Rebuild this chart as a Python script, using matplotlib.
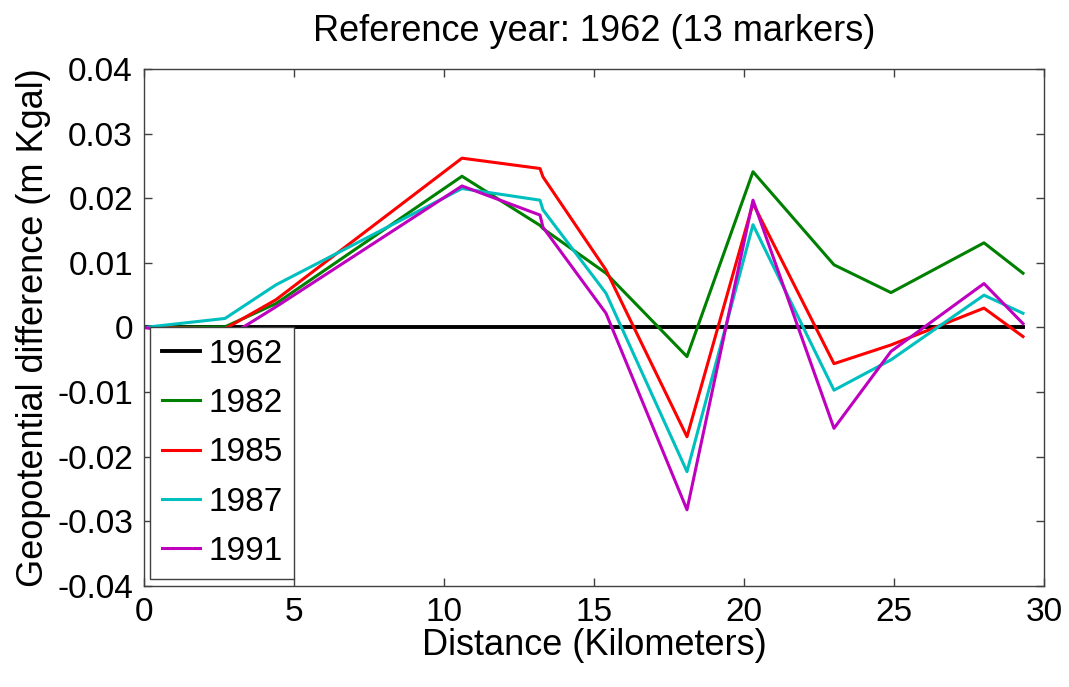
import matplotlib.pyplot as plt
import numpy as np

plt.rcParams['font.family'] = ['Liberation Sans', 'DejaVu Sans']

# distances of the 13 markers (km)
dist = [0, 2.7, 4.4, 10.6, 13.2, 13.3, 15.4, 18.1, 20.3, 23.0, 24.9, 28.0, 29.3]

years = ['1962', '1982', '1985', '1987', '1991']
d1962 = [0, 0, 0, 0, 0, 0, 0, 0, 0, 0, 0, 0, 0]
d1982 = [0, 0.0001, 0.0037, 0.0234, 0.0158, 0.0153, 0.0084, -0.0045, 0.0241, 0.0097, 0.0054, 0.0131, 0.0084]
d1985 = [0, -0.0002, 0.0043, 0.0262, 0.0246, 0.0233, 0.0089, -0.0169, 0.0192, -0.0056, -0.0027, 0.0030, -0.0014]
d1987 = [0, 0.0014, 0.0066, 0.0215, 0.0197, 0.0182, 0.0053, -0.0223, 0.0159, -0.0097, -0.0050, 0.0050, 0.0022]
d1991 = [0, -0.0017, 0.0032, 0.0219, 0.0174, 0.0155, 0.0022, -0.0282, 0.0197, -0.0156, -0.0037, 0.0068, 0.0006]

series = [d1962, d1982, d1985, d1987, d1991]
colors = ['black', '#008000', '#ff0000', '#00bfbf', '#bf00bf']
widths = [2.8, 2.2, 2.2, 2.2, 2.2]

fig = plt.figure(figsize=(10.69, 6.87), dpi=100)
ax = fig.add_axes([0.1347, 0.147, 0.8419, 0.7526])

for yr, vals, c, lw in zip(years, series, colors, widths):
    ax.plot(dist, vals, color=c, lw=lw, label=yr)

ax.set_xlim(0, 30)
ax.set_ylim(-0.04, 0.04)
ax.set_xticks(np.arange(0, 31, 5))
ax.set_yticks(np.arange(-0.04, 0.041, 0.01))
ax.set_yticklabels(['-0.04', '-0.03', '-0.02', '-0.01', '0', '0.01', '0.02', '0.03', '0.04'])
ax.tick_params(direction='in', length=6, width=1, labelsize=24, top=True, right=True,
               color='#404040', pad=8)
for s in ax.spines.values():
    s.set_color('#404040')
    s.set_linewidth(1)

ax.set_title('Reference year: 1962 (13 markers)', fontsize=26, pad=20)
ax.set_xlabel('Distance (Kilometers)', fontsize=26, labelpad=0)
ax.set_ylabel('Geopotential difference (m Kgal)', fontsize=26, labelpad=4)

leg = ax.legend(loc='upper left', bbox_to_anchor=(0.0067, 0.501), fontsize=24,
                handlelength=1.15, handletextpad=0.25, labelspacing=0.55,
                borderaxespad=0, borderpad=0.35, fancybox=False, framealpha=1)
leg.get_frame().set_edgecolor('#404040')
leg.get_frame().set_linewidth(1)

plt.savefig('out.png')
